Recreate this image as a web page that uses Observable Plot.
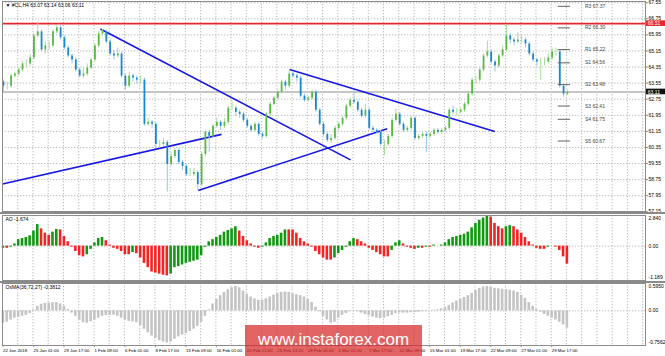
<!DOCTYPE html>
<html><head><meta charset="utf-8">
<script src="https://cdn.jsdelivr.net/npm/d3@7"></script>
<script src="https://cdn.jsdelivr.net/npm/@observablehq/plot@0.6"></script>
<style>
body{margin:0;background:#fff;}
#wrap{position:relative;width:665px;height:356px;overflow:hidden;font-family:"Liberation Sans",Arial,sans-serif;background:#fff;}
#wrap svg{display:block;position:absolute;left:0;overflow:visible;}
.sep{position:absolute;left:0;width:665px;height:2.5px;background:#8a8a8a;}
#wm{position:absolute;left:245px;top:325px;width:177px;height:31px;background:rgba(215,40,40,0.72);color:#fff;font-size:17px;line-height:30px;text-align:center;font-family:"Liberation Sans",Arial,sans-serif;}
</style></head><body><div id="wrap"></div>
<script>
// ---- price bars (H4 pairs) ----
const opens = [63.6, 63.4, 63.4, 63.9, 64.0, 64.2, 64.5, 64.5, 64.8, 65.9,
66.1, 65.2, 65.4, 65.4, 66.1, 66.3, 65.8, 65.3, 64.9, 64.7,
64.2, 63.9, 64.0, 64.3, 64.7, 65.4, 66.0, 66.1, 65.6, 65.0,
64.9, 65.0, 63.9, 63.4, 63.9, 63.8, 63.7, 63.7, 61.5, 61.6,
61.5, 60.5, 60.5, 60.6, 59.5, 59.9, 60.2, 59.6, 59.4, 59.0,
59.0, 59.1, 58.5, 60.0, 61.1, 60.9, 61.4, 61.6, 61.4, 61.6,
62.3, 62.3, 62.1, 62.0, 61.7, 61.4, 61.2, 61.5, 61.0, 60.9,
62.0, 62.5, 62.8, 63.1, 63.6, 63.4, 64.0, 63.9, 63.8, 62.9,
62.7, 62.8, 63.1, 62.2, 61.5, 61.0, 60.7, 60.8, 61.3, 61.5,
61.8, 62.4, 62.7, 62.6, 62.2, 61.9, 62.2, 61.3, 61.2, 61.1,
60.5, 60.5, 60.9, 61.7, 62.0, 61.5, 61.2, 61.3, 61.8, 60.8,
60.9, 61.0, 60.9, 61.0, 61.2, 61.1, 61.2, 61.3, 62.2, 62.1,
62.1, 62.2, 62.5, 63.0, 63.7, 63.7, 64.2, 64.9, 65.1, 64.6,
64.4, 64.9, 65.2, 65.9, 65.7, 65.6, 65.7, 65.7, 65.5, 65.0,
64.7, 64.6, 64.6, 64.6, 64.8, 65.1, 65.1, 63.4, 63.0];
const highs = [63.7, 63.6, 64.0, 64.1, 64.3, 64.6, 64.7, 65.0, 66.0, 66.58,
66.2, 65.6, 65.6, 66.2, 66.42, 66.4, 65.9, 65.4, 65.0, 64.8,
64.3, 64.3, 64.5, 64.8, 65.5, 66.1, 66.22, 66.2, 65.7, 65.2,
65.3, 65.1, 64.0, 64.1, 64.0, 63.9, 63.9, 63.8, 61.8, 61.7,
61.6, 60.7, 60.8, 60.7, 60.1, 60.3, 60.3, 59.7, 59.5, 59.3,
59.3, 59.2, 60.1, 61.2, 61.2, 61.5, 61.8, 61.7, 61.8, 62.4,
62.6, 62.4, 62.2, 62.1, 61.8, 61.5, 61.6, 61.6, 61.1, 62.1,
62.6, 62.9, 63.2, 63.7, 63.7, 64.21, 64.1, 64.0, 63.9, 63.0,
62.9, 63.2, 63.2, 62.3, 61.6, 61.1, 61.0, 61.4, 61.6, 61.9,
62.5, 62.8, 63.18, 62.7, 62.3, 62.5, 62.3, 61.4, 61.3, 61.2,
60.7, 61.0, 61.8, 62.27, 62.1, 61.6, 61.4, 61.9, 61.9, 61.0,
61.1, 61.1, 61.1, 61.3, 61.3, 61.3, 61.4, 62.3, 62.4, 62.3,
62.3, 62.6, 63.1, 63.8, 63.9, 64.3, 65.0, 65.64, 65.2, 64.7,
65.0, 65.4, 66.47, 66.0, 65.8, 66.05, 65.9, 65.8, 65.6, 65.1,
64.8, 64.8, 64.8, 65.0, 65.3, 65.3, 65.2, 63.5, 63.2];
const lows = [63.1, 63.2, 63.3, 63.8, 63.9, 64.1, 64.3, 64.4, 64.7, 65.8,
65.1, 65.0, 65.2, 65.3, 66.0, 65.7, 65.2, 64.8, 64.5, 64.1,
63.8, 63.8, 63.9, 64.2, 64.6, 65.3, 65.9, 65.5, 64.9, 64.7,
64.8, 63.8, 63.2, 63.3, 63.6, 63.5, 63.5, 61.4, 61.4, 61.3,
60.3, 60.3, 60.4, 58.13, 59.4, 59.8, 59.5, 59.2, 58.9, 58.9,
58.9, 58.2, 58.4, 59.9, 60.1, 60.8, 61.3, 61.2, 61.3, 61.5,
62.2, 61.9, 61.8, 61.6, 61.3, 61.1, 61.1, 60.9, 60.78, 60.8,
61.9, 62.4, 62.7, 63.0, 63.2, 63.3, 63.8, 63.6, 62.8, 62.6,
62.6, 62.7, 62.1, 61.4, 60.9, 60.6, 60.55, 60.7, 61.2, 61.4,
61.7, 62.3, 62.5, 62.1, 61.8, 61.8, 61.2, 61.1, 61.0, 60.4,
59.95, 60.4, 60.8, 61.6, 61.4, 61.1, 61.1, 61.2, 60.7, 60.7,
60.8, 60.11, 60.8, 60.9, 61.0, 61.0, 61.1, 61.2, 62.0, 61.9,
62.0, 62.1, 62.4, 62.9, 63.5, 63.6, 64.1, 64.8, 64.5, 64.1,
64.3, 64.8, 65.1, 65.5, 65.4, 65.5, 65.5, 65.3, 64.9, 64.6,
64.4, 63.68, 64.4, 64.5, 64.7, 64.9, 63.3, 62.85, 62.95];
const closes = [63.4, 63.4, 63.9, 64.0, 64.2, 64.5, 64.5, 64.8, 65.9, 66.1,
65.2, 65.4, 65.4, 66.1, 66.3, 65.8, 65.3, 64.9, 64.7, 64.2,
63.9, 64.0, 64.3, 64.7, 65.4, 66.0, 66.1, 65.6, 65.0, 64.9,
65.0, 63.9, 63.4, 63.9, 63.8, 63.7, 63.7, 61.5, 61.6, 61.5,
60.5, 60.5, 60.6, 59.5, 59.9, 60.2, 59.6, 59.4, 59.0, 59.0,
59.1, 58.5, 60.0, 61.1, 60.9, 61.4, 61.6, 61.4, 61.6, 62.3,
62.3, 62.1, 62.0, 61.7, 61.4, 61.2, 61.5, 61.0, 60.9, 62.0,
62.5, 62.8, 63.1, 63.6, 63.4, 64.0, 63.9, 63.8, 62.9, 62.7,
62.8, 63.1, 62.2, 61.5, 61.0, 60.7, 60.8, 61.3, 61.5, 61.8,
62.4, 62.7, 62.6, 62.2, 61.9, 62.2, 61.3, 61.2, 61.1, 60.5,
60.5, 60.9, 61.7, 62.0, 61.5, 61.2, 61.3, 61.8, 60.8, 60.9,
61.0, 60.9, 61.0, 61.2, 61.1, 61.2, 61.3, 62.2, 62.1, 62.1,
62.2, 62.5, 63.0, 63.7, 63.7, 64.2, 64.9, 65.1, 64.6, 64.4,
64.9, 65.2, 65.9, 65.7, 65.6, 65.7, 65.7, 65.5, 65.0, 64.7,
64.6, 64.6, 64.6, 64.8, 65.1, 65.1, 63.4, 63.0, 63.1];

// ---- Awesome Oscillator values ----
const aoValues = [-0.2, -0.2, -0.1, 0.2, 0.6, 0.7, 0.8, 0.95, 1.4, 2.0,
1.6, 1.2, 1.0, 1.3, 1.55, 1.5, 0.9, 0.4, -0.1, -0.5,
-0.9, -1.0, -0.8, -0.3, 0.3, 0.7, 0.8, 0.5, 0.1, -0.2,
-0.3, -0.5, -0.8, -0.8, -0.6, -0.7, -1.1, -1.6, -2.0, -2.4,
-2.5, -2.6, -2.7, -2.76, -2.6, -2.0, -1.9, -1.75, -1.6, -1.5,
-1.4, -1.3, -0.9, -0.1, 0.4, 0.6, 0.8, 1.0, 1.3, 1.45,
1.6, 1.8, 1.4, 0.9, 0.5, 0.2, -0.1, -0.2, -0.1, 0.3,
0.7, 0.9, 1.0, 1.2, 1.5, 1.5, 1.5, 1.2, 0.7, 0.4,
0.2, -0.1, -0.5, -0.8, -1.1, -1.3, -1.3, -1.1, -0.7, -0.4,
-0.1, 0.4, 0.7, 0.6, 0.4, 0.2, -0.2, -0.4, -0.6, -0.8,
-1.0, -1.0, -0.4, 0.3, 0.5, 0.2, -0.1, -0.2, -0.3, -0.2,
-0.2, -0.1, -0.1, 0.1, 0.0, 0.1, 0.3, 0.6, 0.8, 0.9,
1.0, 1.1, 1.3, 1.7, 2.1, 2.4, 2.6, 2.84, 2.7, 2.1,
1.8, 1.6, 1.8, 1.9, 1.8, 1.5, 1.2, 0.8, 0.4, 0.1,
-0.2, -0.3, -0.3, -0.1, 0.0, -0.1, -0.4, -1.0, -1.67];

// ---- OsMA(36,72,27) values ----
const osmaValues = [-0.27, -0.25, -0.2, -0.16, -0.14, -0.12, -0.1, -0.06, 0.02, 0.1,
0.14, 0.16, 0.17, 0.18, 0.18, 0.15, 0.1, 0.03, -0.05, -0.12,
-0.2, -0.26, -0.27, -0.24, -0.2, -0.16, -0.12, -0.1, -0.1, -0.1,
-0.12, -0.16, -0.2, -0.23, -0.24, -0.26, -0.32, -0.4, -0.48, -0.55,
-0.6, -0.65, -0.68, -0.7, -0.68, -0.62, -0.57, -0.53, -0.5, -0.45,
-0.4, -0.34, -0.25, -0.12, 0.02, 0.15, 0.25, 0.33, 0.4, 0.46,
0.5, 0.53, 0.5, 0.43, 0.36, 0.3, 0.26, 0.23, 0.23, 0.26,
0.3, 0.34, 0.37, 0.4, 0.41, 0.4, 0.37, 0.35, 0.33, 0.3,
0.25, 0.18, 0.08, -0.02, -0.12, -0.2, -0.27, -0.25, -0.16, -0.1,
-0.06, -0.02, 0.0, -0.02, -0.05, -0.08, -0.11, -0.14, -0.16, -0.17,
-0.16, -0.13, -0.1, -0.06, -0.05, -0.05, -0.05, -0.04, -0.04, -0.03,
-0.02, -0.01, 0.0, 0.01, 0.02, 0.04, 0.08, 0.12, 0.17, 0.21,
0.25, 0.29, 0.33, 0.38, 0.44, 0.49, 0.52, 0.53, 0.51, 0.49,
0.48, 0.47, 0.46, 0.45, 0.43, 0.4, 0.34, 0.27, 0.18, 0.1,
0.03, -0.03, -0.08, -0.12, -0.16, -0.2, -0.25, -0.31, -0.38];

// ---- axes / labels ----
const priceTicks = [57.15, 57.95, 58.75, 59.55, 60.35, 61.15, 61.95, 62.75, 63.55, 64.35, 65.15, 65.95, 66.75, 67.55];
const dateLabels = ["22 Jan 2018","25 Jan 01:00","29 Jan 17:00","1 Feb 09:00","6 Feb 01:00","8 Feb 17:00","13 Feb 09:00","16 Feb 01:00","20 Feb 21:00","23 Feb 13:00","28 Feb 05:00","5 Mar 01:00","7 Mar 17:00","12 Mar 09:00","15 Mar 01:00","19 Mar 17:00","22 Mar 09:00","27 Mar 01:00","29 Mar 17:00"];
const pivotNames = ["R3","R2","R1","S1","S2","S3","S4","S5"];
const pivotValues = [67.37, 66.30, 65.22, 64.56, 63.48, 62.41, 61.75, 60.67];
const resistanceLevel = 66.51;
const bidLevel = 63.11;
const titleText = "▼ #CL,H4 63.07 63.14 63.06 63.11";
const aoTitle = "AO -1.674";
const osmaTitle = "OsMA(36,72,27) -0.3812";
const aoScaleLabels = ["2.840", "0.00", "-1.189"];
const aoScaleValues = [2.84, 0, -3.189];
const osmaScaleLabels = ["0.5950", "0.00", "-0.7562"];
const osmaScaleValues = [0.595, 0, -0.7562];
// trend lines: [bar, price] endpoints
const trendStartBar = [25.47, -0.25, 51.12, 75.08];
const trendStartPrice = [66.24, 58.53, 58.21, 64.23];
const trendEndBar = [91.09, 57.23, 100.72, 128.96];
const trendEndPrice = [59.73, 61.0, 61.28, 61.14];

// ---- build tables ----
const bars = closes.map((c, i) => ({j: i, o: opens[i], h: highs[i], l: lows[i], c, up: c >= opens[i]}));
const ao = aoValues.map((v, i) => ({j: i, v, up: i === 0 || v > aoValues[i - 1]}));
const osma = osmaValues.map((v, i) => ({j: i, v}));
const trends = trendStartBar.map((b, i) => ({x1: b, y1: trendStartPrice[i], x2: trendEndBar[i], y2: trendEndPrice[i]}));
const xDomain = [-0.25, 168.5];
const gridBars = d3.range(-0.25, 168.5, 4);
const dateTicks = dateLabels.map((_, i) => -0.25 + 8 * i);
const dateMap = new Map(dateTicks.map((t, i) => [t, dateLabels[i]]));
const lastBar = closes.length - 1;

const font = "Liberation Sans, Arial, sans-serif";
const grid = {stroke: "#a8a8a8", strokeOpacity: 1, strokeDasharray: "1.3,1.7", strokeWidth: 0.8};
const common = {width: 665, marginLeft: 2, marginRight: 20,
  style: {background: "transparent", overflow: "visible", fontFamily: font, color: "#000"}};

const upBody = "#56b944", upWick = "#a9da9c", dnBody = "#1c86cc", dnWick = "#93c9ea";

const main = Plot.plot({
  ...common, height: 213, marginTop: 1, marginBottom: 2,
  x: {domain: xDomain, axis: null},
  y: {domain: [57.163, 67.611], axis: null},
  marks: [
    Plot.gridY(priceTicks, grid),
    Plot.gridX(gridBars, grid),
    Plot.ruleY([bidLevel], {stroke: "#c6c6c6", strokeWidth: 2}),
    Plot.ruleY([resistanceLevel], {stroke: "#e8262a", strokeWidth: 1.6}),
    Plot.link(trends, {x1: "x1", y1: "y1", x2: "x2", y2: "y2", stroke: "#1616e6", strokeWidth: 1.6}),
    Plot.ruleX(bars, {x: "j", y1: "l", y2: "h", stroke: d => d.up ? upWick : dnWick, strokeWidth: 1}),
    Plot.ruleX(bars, {x: "j", y1: "o", y2: "c", stroke: d => d.up ? upBody : dnBody, strokeWidth: 1.8}),
    Plot.ruleY(pivotValues, {x1: lastBar - 2.4, x2: lastBar + 0.8, stroke: "#6e6e6e", strokeWidth: 1.1}),
    Plot.text(pivotValues, {x: lastBar + 4.6, y: d => d, text: (d, i) => pivotNames[i] + " " + d.toFixed(2), textAnchor: "start", fontSize: 5, fill: "#444"}),
    Plot.axisY({anchor: "right", ticks: priceTicks, tickFormat: d => d.toFixed(2), tickSize: 2, tickPadding: 1, fontSize: 5, stroke: "#888"}),
    Plot.rect([resistanceLevel], {x1: xDomain[1] + 0.2, x2: xDomain[1] + 5.5, y1: d => d - 0.14, y2: d => d + 0.14, fill: "#e8262a"}),
    Plot.text([resistanceLevel], {x: xDomain[1] + 0.6, y: d => d, text: d => d.toFixed(2), textAnchor: "start", fontSize: 5, fill: "#fff"}),
    Plot.rect([bidLevel], {x1: xDomain[1] + 0.2, x2: xDomain[1] + 5.5, y1: d => d - 0.14, y2: d => d + 0.14, fill: "#111"}),
    Plot.text([bidLevel], {x: xDomain[1] + 0.6, y: d => d, text: d => d.toFixed(2), textAnchor: "start", fontSize: 5, fill: "#fff"}),
    Plot.frame({stroke: "#8c8c8c"}),
    Plot.text([titleText], {frameAnchor: "top-left", dx: 3, dy: 2, fontSize: 5, fill: "#000"})
  ]
});

const aoPlot = Plot.plot({
  ...common, height: 69, marginTop: 2, marginBottom: 2,
  x: {domain: xDomain, axis: null},
  y: {domain: [-3.189, 2.84], axis: null},
  marks: [
    Plot.gridX(gridBars, grid),
    Plot.ruleY([0], grid),
    Plot.rect(ao, {x1: d => d.j - 0.34, x2: d => d.j + 0.34, y1: 0, y2: "v", fill: d => d.up ? "#119a11" : "#f42222"}),
    Plot.text([aoScaleValues[0]], {frameAnchor: "right", y: d => d, dx: 3, dy: 3, text: () => aoScaleLabels[0], textAnchor: "start", fontSize: 5}),
    Plot.text([aoScaleValues[1]], {frameAnchor: "right", y: d => d, dx: 3, text: () => aoScaleLabels[1], textAnchor: "start", fontSize: 5}),
    Plot.text([aoScaleValues[2]], {frameAnchor: "right", y: d => d, dx: 3, dy: -3.5, text: () => aoScaleLabels[2], textAnchor: "start", fontSize: 5}),
    Plot.frame({stroke: "#8c8c8c"}),
    Plot.text([aoTitle], {frameAnchor: "top-left", dx: 3, dy: 1.5, fontSize: 5, fill: "#000"})
  ]
});

const osmaPlot = Plot.plot({
  ...common, height: 74, marginTop: 1, marginBottom: 11,
  x: {domain: xDomain, axis: null},
  y: {domain: [-0.7562, 0.595], axis: null},
  marks: [
    Plot.gridX(gridBars, grid),
    Plot.ruleY([0], grid),
    Plot.rect(osma, {x1: d => d.j - 0.34, x2: d => d.j + 0.34, y1: 0, y2: "v", fill: "#c4c4c4"}),
    Plot.text([osmaScaleValues[0]], {frameAnchor: "right", y: d => d, dx: 3, dy: 2.5, text: () => osmaScaleLabels[0], textAnchor: "start", fontSize: 5}),
    Plot.text([osmaScaleValues[1]], {frameAnchor: "right", y: d => d, dx: 3, text: () => osmaScaleLabels[1], textAnchor: "start", fontSize: 5}),
    Plot.text([osmaScaleValues[2]], {frameAnchor: "right", y: d => d, dx: 3, dy: -3.2, text: () => osmaScaleLabels[2], textAnchor: "start", fontSize: 5}),
    Plot.axisX({anchor: "bottom", ticks: dateTicks, tickFormat: d => dateMap.get(d), tickSize: 2, tickPadding: 1.5, textAnchor: "start", dx: 0.5, fontSize: 4.4, stroke: "#888"}),
    Plot.frame({stroke: "#8c8c8c"}),
    Plot.text([osmaTitle], {frameAnchor: "top-left", dx: 3, dy: 1.5, fontSize: 5, fill: "#000"})
  ]
});

const wrap = document.getElementById("wrap");
main.style.top = "0px";
aoPlot.style.top = "213px";
osmaPlot.style.top = "282px";
wrap.append(main, aoPlot, osmaPlot);
for (const t of [211.5, 280.5]) {
  const s = document.createElement("div");
  s.className = "sep"; s.style.top = t + "px";
  wrap.append(s);
}
const wm = document.createElement("div");
wm.id = "wm"; wm.textContent = "www.instaforex.com";
wrap.append(wm);
</script></body></html>
